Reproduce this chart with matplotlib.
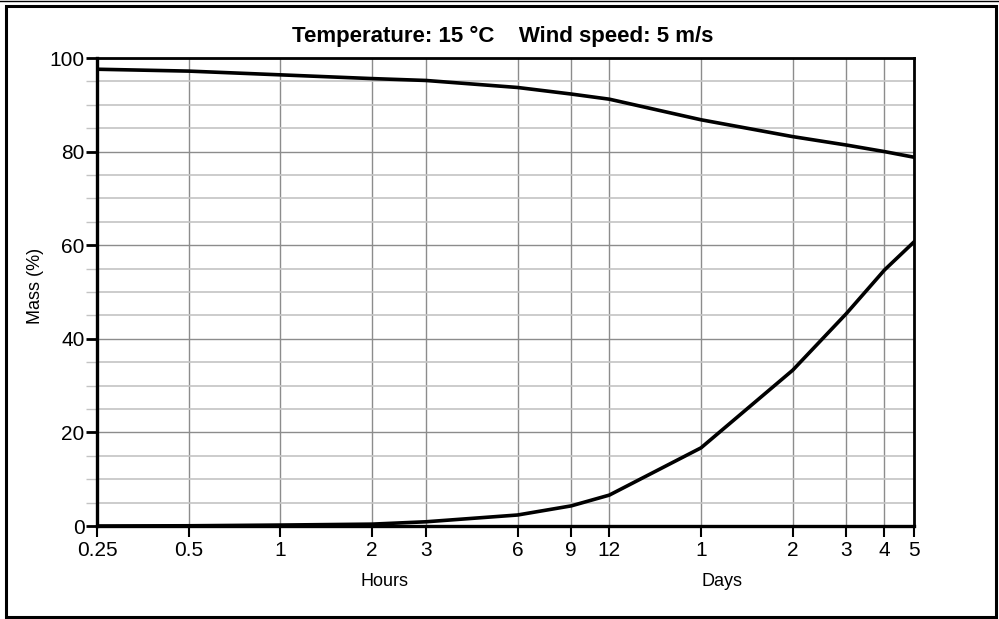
import matplotlib
matplotlib.use("Agg")
import matplotlib.pyplot as plt
from matplotlib.lines import Line2D
from matplotlib.patches import Rectangle

plt.rcParams["font.family"] = ["Liberation Sans", "DejaVu Sans"]

# time in hours
horas = [0.25, 0.5, 1, 2, 3, 6, 9, 12, 24, 48, 72, 96, 120]
masa_sup = [97.6, 97.2, 96.4, 95.6, 95.2, 93.7, 92.3, 91.2, 86.8, 83.2, 81.4, 80.0, 78.8]
masa_inf = [0.0, 0.05, 0.2, 0.4, 0.9, 2.35, 4.3, 6.6, 16.7, 33.3, 45.4, 54.7, 60.7]
etiquetas_x = ["0.25", "0.5", "1", "2", "3", "6", "9", "12", "1", "2", "3", "4", "5"]
ticks_y = [0, 20, 40, 60, 80, 100]

fig = plt.figure(figsize=(9.99, 6.19), dpi=100)
ax = fig.add_axes([97 / 999, 1 - 526 / 619, (914 - 97) / 999, (526 - 58) / 619])

ax.plot(horas, masa_sup, color="black", linewidth=2.6, zorder=5)
ax.plot(horas, masa_inf, color="black", linewidth=2.6, zorder=5)

ax.set_xscale("log")
ax.set_xlim(0.25, 120)
ax.set_ylim(0, 100)
ax.set_xticks(horas)
ax.set_xticklabels(etiquetas_x)
ax.xaxis.set_minor_locator(matplotlib.ticker.NullLocator())
ax.set_yticks(ticks_y)
ax.set_yticks([v for v in range(5, 100, 5) if v % 20], minor=True)

ax.grid(True, which="major", axis="both", color="#8c8c8c", linewidth=1)
ax.grid(True, which="minor", axis="y", color="#c4c4c4", linewidth=1.2)
ax.set_axisbelow(True)

ax.tick_params(axis="y", which="major", length=8, width=2, color="black",
               labelsize=15, pad=1)
ax.tick_params(axis="y", which="minor", length=8, width=1, color="#c4c4c4")
ax.tick_params(axis="x", which="major", length=8, width=1.5, color="black",
               labelsize=15, pad=3)

for lado in ["left", "bottom"]:
    ax.spines[lado].set_linewidth(2.4)
for lado in ["top", "right"]:
    ax.spines[lado].set_linewidth(2)

fig.text(35 / 999, 1 - 286 / 619, "Mass (%)", rotation=90,
         ha="center", va="center", fontsize=13)
fig.text(503 / 999, 1 - 36 / 619, "Temperature: 15 \u00b0C    Wind speed: 5 m/s",
         ha="center", va="center", fontsize=16, fontweight="bold")
fig.text(384 / 999, 1 - 582 / 619, "Hours", ha="center", va="center", fontsize=13)
fig.text(722 / 999, 1 - 582 / 619, "Days", ha="center", va="center", fontsize=13)

# marco exterior
fig.patches.append(Rectangle((6 / 999, 2 / 619), 990 / 999, 611 / 619,
                             transform=fig.transFigure, fill=False,
                             edgecolor="black", linewidth=2.2))
fig.lines.append(Line2D([0, 1], [1 - 0.6 / 619, 1 - 0.6 / 619],
                        transform=fig.transFigure, color="black", linewidth=1))

fig.savefig("out.png", dpi=100)
plt.close(fig)
